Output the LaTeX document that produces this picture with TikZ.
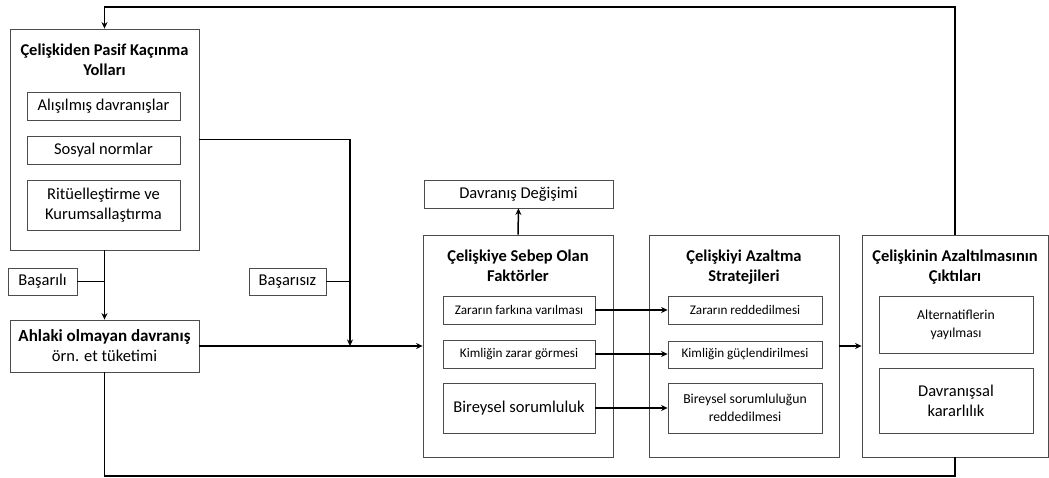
\documentclass[tikz,border=0pt]{standalone}
\usepackage{fontspec}
\setmainfont{Carlito}
\usetikzlibrary{arrows.meta}

\begin{document}
\begin{tikzpicture}[x=1pt,y=-1pt,>={Stealth[length=6.5pt,width=6pt]},
		box/.style={draw=black!70,line width=0.8pt,inner sep=2pt,align=center},
		conn/.style={line width=1.5pt},
		ttl/.style={font=\bfseries\fontsize{16.5}{20}\selectfont,align=center},
		fbig/.style={font=\fontsize{16.5}{20}\selectfont},
		fmid/.style={font=\fontsize{13.7}{18}\selectfont},
		fsmall/.style={font=\fontsize{13.2}{18}\selectfont}]
				\useasboundingbox (0,0) rectangle (1049,478);

				\node[box,minimum width=189pt,minimum height=221pt] (pasif) at (104.5,139.5) {};
				\node[ttl] (pasifT) at (104.5,60) {Çelişkiden Pasif Kaçınma\\Yolları};
				\node[box,fbig,minimum width=153pt,minimum height=28pt] (alis) at (103.5,106) {Alışılmış davranışlar};
				\node[box,fbig,minimum width=153pt,minimum height=28pt] (sosyal) at (103.5,150) {Sosyal normlar};
				\node[box,fbig,minimum width=153pt,minimum height=50pt] (ritu) at (103.5,205) {Ritüelleştirme ve\\Kurumsallaştırma};

				\node[box,fbig,minimum width=69pt,minimum height=27pt] (basarili) at (42.5,281.5) {Başarılı};
				\node[box,fbig,minimum width=77pt,minimum height=27pt] (basarisiz) at (287.5,281.5) {Başarısız};

				\node[box,fbig,minimum width=189pt,minimum height=52pt] (ahlaki) at (104.5,346) {{\bfseries\fontsize{17}{20}\selectfont Ahlaki olmayan davranış}\\örn. et tüketimi};

				\node[box,fbig,minimum width=189pt,minimum height=28pt] (degisim) at (518.5,194) {Davranış Değişimi};

				\node[box,minimum width=190pt,minimum height=222pt] (faktor) at (518,346) {};
				\node[ttl] (faktorT) at (518,266) {Çelişkiye Sebep Olan\\Faktörler};
				\node[box,fsmall,minimum width=152pt,minimum height=28pt] (zarar) at (519,310) {Zararın farkına varılması};
				\node[box,fsmall,minimum width=152pt,minimum height=28pt] (kimlik) at (519,354) {Kimliğin zarar görmesi};
				\node[box,fbig,minimum width=152pt,minimum height=50pt] (birey) at (519,408) {Bireysel sorumluluk};

				\node[box,minimum width=190pt,minimum height=222pt] (strat) at (744,346) {};
				\node[ttl] (stratT) at (744,267) {Çelişkiyi Azaltma\\Stratejileri};
				\node[box,fsmall,minimum width=154pt,minimum height=28pt] (zred) at (745,310) {Zararın reddedilmesi};
				\node[box,fsmall,minimum width=154pt,minimum height=27pt] (kguc) at (745,354.5) {Kimliğin güçlendirilmesi};
				\node[box,fmid,minimum width=154pt,minimum height=50pt] (bred) at (745,408) {Bireysel sorumluluğun\\reddedilmesi};

				\node[box,minimum width=186pt,minimum height=222pt] (cikti) at (955,346) {};
				\node[ttl] (ciktiT) at (955,267) {Çelişkinin Azaltılmasının\\Çıktıları};
				\node[box,fmid,minimum width=154pt,minimum height=57pt] (alt) at (956,324.5) {Alternatiflerin\\yayılması};
				\node[box,fbig,minimum width=154pt,minimum height=65pt] (kar) at (956,400.5) {Davranışsal\\kararlılık};

				\coordinate (ust) at (0,7);
				\coordinate (alt2) at (0,476);
				\coordinate (jn) at (350,346);

				\draw[conn,->] (cikti.north) -- (cikti.north |- ust) -| (pasif.north);
				\draw[conn,->] (pasif.south) -- (ahlaki.north);
				\draw[conn] (basarili.east) -- (basarili.east -| pasif.south);
				\draw[conn,->] (pasif.east) -| (jn);
				\draw[conn] (basarisiz.east) -- (basarisiz.east -| jn);
				\draw[conn,->] (ahlaki.east) -- (faktor.west);
				\draw[conn] (ahlaki.south) -- (ahlaki.south |- alt2) -| (cikti.south);

				\draw[conn,->] (faktor.north) -- (degisim.south);
				\draw[conn,->] (zarar.east) -- (zred.west);
				\draw[conn,->] (kimlik.east) -- (kimlik.east -| kguc.west);
				\draw[conn,->] (birey.east) -- (bred.west);
				\draw[conn,->] (strat.east) -- (cikti.west);
			\end{tikzpicture}
\end{document}
